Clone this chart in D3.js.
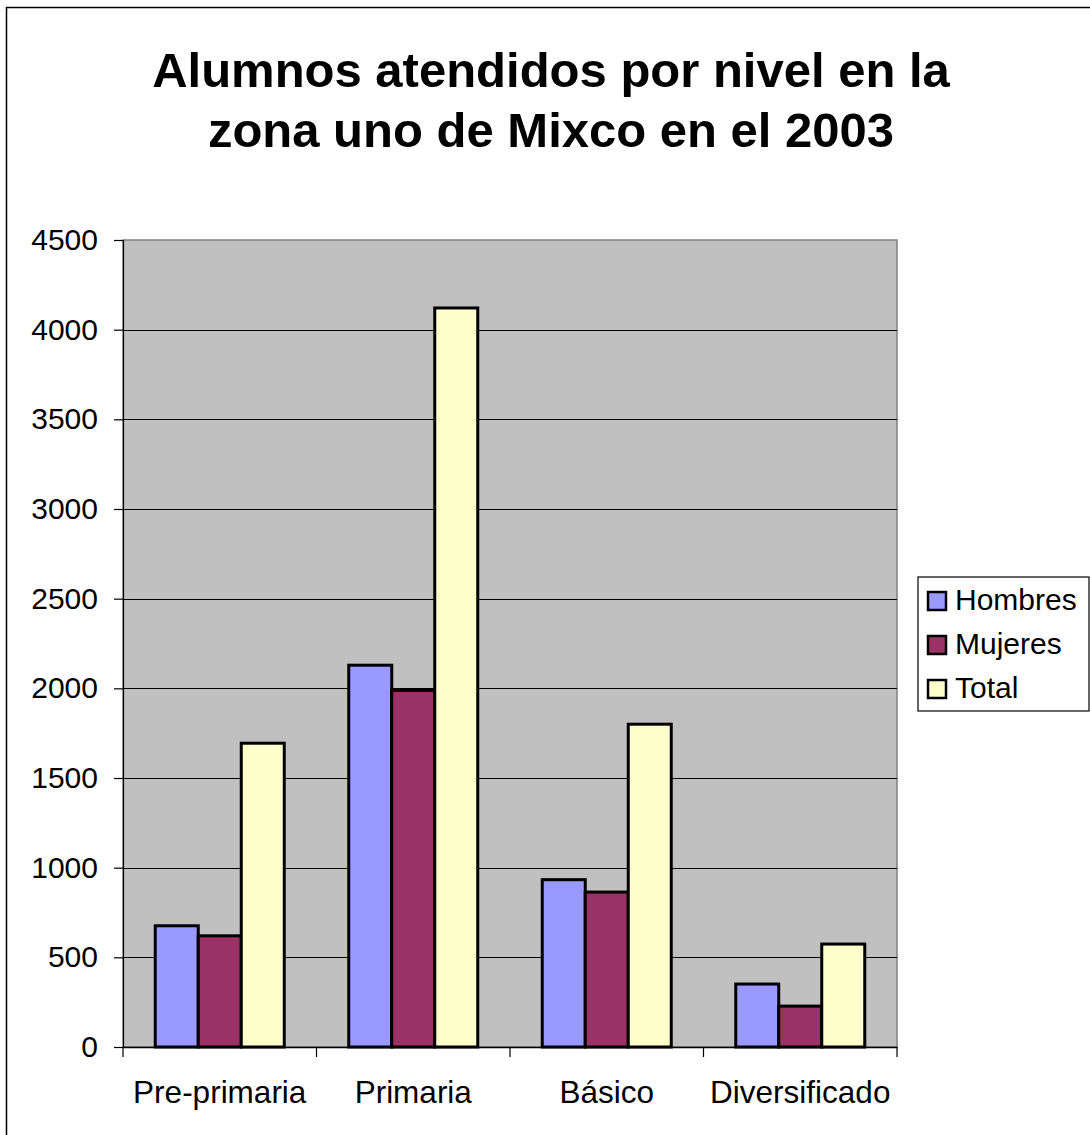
<!DOCTYPE html>
<html>
<head>
<meta charset="utf-8">
<script src="https://cdn.jsdelivr.net/npm/d3@7"></script>
<style>
  body { margin: 0; background: #fff; }
  svg { display: block; font-family: "Liberation Sans", Arial, sans-serif; }
</style>
</head>
<body>
<svg id="chart" width="1090" height="1135"></svg>
<script>
const categories = ["Pre-primaria", "Primaria", "Básico", "Diversificado"];
const seriesNames = ["Hombres", "Mujeres", "Total"];
const hombres = [676, 2129, 933, 351];
const mujeres = [620, 1988, 864, 228];
const total = [1694, 4121, 1800, 574];
const yTicks = [0, 500, 1000, 1500, 2000, 2500, 3000, 3500, 4000, 4500];
const titleLines = ["Alumnos atendidos por nivel en la", "zona uno de Mixco en el 2003"];

const seriesValues = [hombres, mujeres, total];
const colors = ["#9999ff", "#993366", "#ffffcc"];

const svg = d3.select("#chart");

// outer chart frame (right and bottom run off the page)
svg.append("rect")
  .attr("x", 6.5).attr("y", 7.5)
  .attr("width", 1100).attr("height", 1140)
  .attr("fill", "#fff")
  .attr("stroke", "#000")
  .attr("stroke-width", 1.5);

// title
svg.append("text")
  .attr("x", 551)
  .attr("text-anchor", "middle")
  .style("font-weight", "bold")
  .style("font-size", "49px")
  .selectAll("tspan")
  .data(titleLines)
  .enter()
  .append("tspan")
  .attr("x", 551)
  .attr("y", (d, i) => 87 + i * 60)
  .text(d => d);

const plot = { left: 123, right: 897, top: 240, bottom: 1047 };

const x0 = d3.scaleBand()
  .domain(categories)
  .range([plot.left, plot.right])
  .padding(0);

const gap = x0.bandwidth() * 0.75 / 4.5;
const x1 = d3.scaleBand()
  .domain(seriesNames)
  .range([gap, x0.bandwidth() - gap])
  .padding(0);

const y = d3.scaleLinear()
  .domain([0, 4500])
  .range([plot.bottom, plot.top]);

const color = d3.scaleOrdinal()
  .domain(seriesNames)
  .range(colors);

// plot background
svg.append("rect")
  .attr("x", plot.left).attr("y", plot.top)
  .attr("width", plot.right - plot.left)
  .attr("height", plot.bottom - plot.top)
  .attr("fill", "#c0c0c0")
  .attr("stroke", "#808080")
  .attr("stroke-width", 1.5);

// gridlines
svg.append("g")
  .selectAll("line")
  .data(yTicks.filter(d => d > 0 && d < 4500))
  .enter()
  .append("line")
  .attr("x1", plot.left).attr("x2", plot.right)
  .attr("y1", d => Math.round(y(d)) + 0.5)
  .attr("y2", d => Math.round(y(d)) + 0.5)
  .attr("stroke", "#000")
  .attr("stroke-width", 1);

// bars
const rows = categories.map((c, i) => ({
  category: c,
  values: seriesNames.map((s, j) => ({ key: s, value: seriesValues[j][i] }))
}));

const groups = svg.append("g")
  .selectAll("g")
  .data(rows)
  .enter()
  .append("g")
  .attr("transform", d => `translate(${x0(d.category)},0)`);

groups.selectAll("rect")
  .data(d => d.values)
  .enter()
  .append("rect")
  .attr("x", d => x1(d.key))
  .attr("y", d => y(d.value))
  .attr("width", x1.bandwidth())
  .attr("height", d => y(0) - y(d.value))
  .attr("fill", d => color(d.key))
  .attr("stroke", "#000")
  .attr("stroke-width", 3);

// y axis
const yAxis = svg.append("g")
  .attr("transform", `translate(${plot.left},0)`)
  .call(d3.axisLeft(y).tickValues(yTicks).tickFormat(d3.format("d")).tickSize(9).tickPadding(16));

yAxis.select(".domain").attr("stroke", "#000").attr("stroke-width", 1.2);
yAxis.selectAll(".tick line").attr("stroke", "#000").attr("stroke-width", 1.2);
yAxis.selectAll("text")
  .style("font-size", "30px")
  .style("font-family", "'Liberation Sans', Arial, sans-serif")
  .attr("fill", "#000");

// x axis
const xAxis = svg.append("g")
  .attr("transform", `translate(0,${plot.bottom})`)
  .call(d3.axisBottom(x0).tickSize(0).tickPadding(0));

xAxis.select(".domain").attr("stroke", "#000").attr("stroke-width", 1.5);
xAxis.selectAll("text")
  .attr("dy", null)
  .attr("y", 56)
  .style("font-size", "31.5px")
  .style("font-family", "'Liberation Sans', Arial, sans-serif")
  .attr("fill", "#000");

// category boundary ticks
svg.append("g")
  .selectAll("line")
  .data(categories.concat(["end"]))
  .enter()
  .append("line")
  .attr("x1", (d, i) => i < categories.length ? x0(d) : plot.right)
  .attr("x2", (d, i) => i < categories.length ? x0(d) : plot.right)
  .attr("y1", plot.bottom)
  .attr("y2", plot.bottom + 10)
  .attr("stroke", "#000")
  .attr("stroke-width", 1.2);

// legend
const legend = svg.append("g");
legend.append("rect")
  .attr("x", 918).attr("y", 577)
  .attr("width", 171).attr("height", 134)
  .attr("fill", "#fff")
  .attr("stroke", "#000")
  .attr("stroke-width", 1.2);

const items = legend.selectAll(".item")
  .data(seriesNames)
  .enter()
  .append("g")
  .attr("class", "item")
  .attr("transform", (d, i) => `translate(0,${610 + i * 44})`);

items.append("rect")
  .attr("x", 928).attr("y", -18)
  .attr("width", 18).attr("height", 18)
  .attr("fill", d => color(d))
  .attr("stroke", "#000")
  .attr("stroke-width", 2.5);

items.append("text")
  .attr("x", 955)
  .attr("y", 0)
  .style("font-size", "30px")
  .text(d => d);
</script>
</body>
</html>
